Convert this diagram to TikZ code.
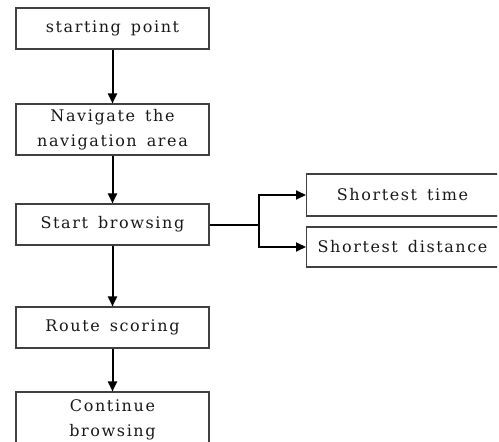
\documentclass[tikz,border=0pt]{standalone}
\usepackage{fontspec}
\setmainfont{DejaVu Serif}[LetterSpace=10,WordSpace=1.5]
\usetikzlibrary{arrows.meta}
\begin{document}
\begin{tikzpicture}[x=1pt,y=-1pt,
  box/.style={draw=black!75,line width=1.1pt,minimum width=193pt,inner sep=0pt,align=center,font=\fontsize{16}{25}\selectfont,text=black!90},
  sidebox/.style={box,anchor=west,minimum width=192pt},
  arr/.style={line width=2pt,-{Triangle[length=10pt,width=9pt]}},
  conn/.style={line width=2pt}]
\useasboundingbox (0,0) rectangle (499,442);
\clip (0,0) rectangle (497.2,442);
\node[box,minimum height=41pt] (sp) at (112.5,28.5) {starting point};
\node[box,minimum height=51pt] (nav) at (112.5,129.5) {Navigate the\\navigation area};
\node[box,minimum height=41pt] (sb) at (112.5,224.5) {Start browsing};
\node[box,minimum height=41pt] (rs) at (112.5,327.5) {Route scoring};
\node[box,minimum height=56pt] (cb) at (112.5,420) {Continue\\browsing};
\node[sidebox,minimum height=42pt] (st) at (306,195) {Shortest time};
\node[sidebox,minimum height=40pt] (sd) at (306,247) {Shortest distance};
\draw[arr] (sp) -- (nav);
\draw[arr] (nav) -- (sb);
\draw[arr] (sb) -- (rs);
\draw[arr] (rs) -- (cb);
\draw[conn] (sb.east) -- ++(49,0) coordinate (j);
\draw[arr] (j) |- (st.west);
\draw[arr] (j) |- (sd.west);
\end{tikzpicture}
\end{document}
